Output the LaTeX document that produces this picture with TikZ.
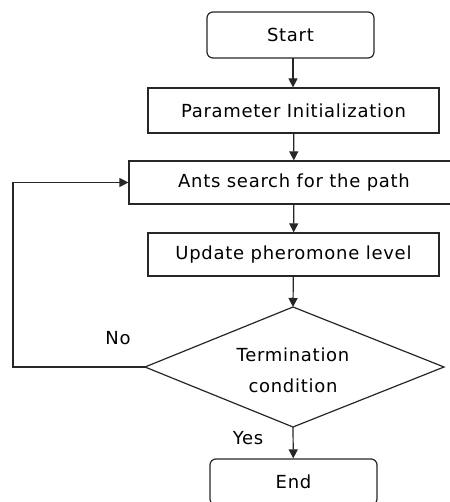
\documentclass[tikz,border=0pt]{standalone}
\usepackage{fontspec}
\setmainfont[LetterSpace=4]{DejaVu Sans}
\usetikzlibrary{arrows.meta,shapes.geometric}
\begin{document}
\begin{tikzpicture}[x=1pt,y=-1pt,
  every node/.style={font=\fontsize{18}{21}\selectfont},
  box/.style={draw=black!85, line width=1.2pt, inner sep=0pt},
  roundbox/.style={box, rounded corners=6pt},
  flow/.style={draw=black!85, line width=1.2pt, -{Triangle[length=9pt,width=9pt]}},
  lbl/.style={inner sep=0pt}]
\useasboundingbox (0,0) rectangle (449,502);
% process steps
\node[roundbox, minimum width=167pt, minimum height=46pt] (start) at (290.5,35) {Start};
\node[box, minimum width=291pt, minimum height=45pt] (init) at (293.5,110.5) {Parameter Initialization};
\node[box, minimum width=330pt, minimum height=43pt] (ants) at (294,182.5) {Ants search for the path};
\node[box, minimum width=291pt, minimum height=43pt] (upd) at (293.5,254.5) {Update pheromone level};
% decision
\coordinate (dt) at (293,307);
\coordinate (dl) at (145,367);
\coordinate (dr) at (444,367);
\coordinate (db) at (293,427);
\draw[draw=black!85, line width=1.2pt] (dt) -- (dr) -- (db) -- (dl) -- cycle;
\node[align=center, font=\fontsize{18}{31}\selectfont] (cond) at (293,370) {Termination\\condition};
\node[roundbox, minimum width=167pt, minimum height=46pt] (end) at (293.5,482) {End};
% connectors
\coordinate (s1) at (293,58);
\draw[flow] (s1) -- (s1 |- init.north);
\draw[flow] (init) -- (ants);
\draw[flow] (ants) -- (upd);
\draw[flow] (upd) -- (dt);
\draw[flow] (db) -- (end);
\coordinate (back) at (13,367);
\draw[flow] (dl) -- (back) |- (ants.west);
% branch labels
\node[lbl] (no) at (118,338) {No};
\node[lbl] (yes) at (248,438) {Yes};
\end{tikzpicture}
\end{document}
